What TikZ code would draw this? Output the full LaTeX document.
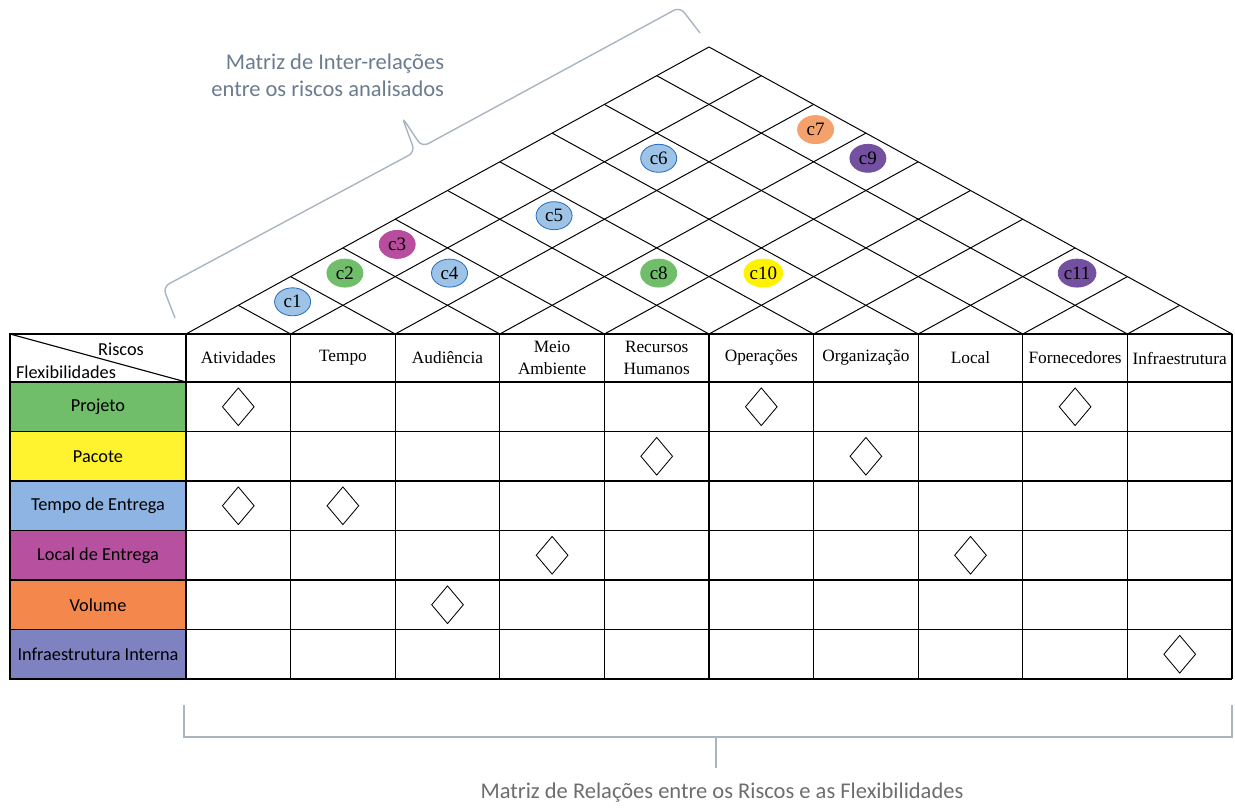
\documentclass[tikz,border=0pt]{standalone}
\usepackage{fontspec}
\setmainfont{Liberation Serif}
\newfontfamily\calibri{Carlito}
\usetikzlibrary{shapes.geometric}

\definecolor{projeto}{HTML}{70BE6A}
\definecolor{pacote}{HTML}{FFF22E}
\definecolor{tempo}{HTML}{8DB4E2}
\definecolor{local}{HTML}{B850A0}
\definecolor{volume}{HTML}{F4874B}
\definecolor{infra}{HTML}{7E82C0}
\definecolor{azul}{HTML}{9DC3E6}
\definecolor{azulb}{HTML}{2F6EBA}
\definecolor{verde}{HTML}{70BE6A}
\definecolor{magenta}{HTML}{B84D9E}
\definecolor{laranja}{HTML}{F4A16B}
\definecolor{roxo}{HTML}{7450A0}
\definecolor{amarelo}{HTML}{FFF200}
\definecolor{chave}{HTML}{A9B5C1}
\definecolor{rotuloc}{HTML}{6B7C8F}
\definecolor{rotulob}{HTML}{6D6D6D}

\tikzset{
  grade/.style={line width=0.8pt, black},
  telhado/.style={line width=0.7pt, black},
  cabec/.style={font=\fontsize{12.3}{16}\selectfont, align=center},
  flex/.style={font=\calibri\fontsize{13}{15}\selectfont},
  losango/.style={diamond, draw, line width=0.6pt, inner sep=0pt,
    minimum width=0.8cm, minimum height=0.95cm},
  risco/.style={ellipse, inner sep=0pt, line width=0.6pt,
    minimum width=0.9cm, minimum height=0.7cm, font=\fontsize{13.5}{15}\selectfont},
  chaveta/.style={draw=chave, line width=1pt},
  rotulo/.style={font=\calibri\fontsize{16}{19.2}\selectfont, text=rotuloc},
}

\begin{document}
\begin{tikzpicture}[x=0.025cm,y=-0.025cm]
\useasboundingbox (0,0) rectangle (1235,808);

% flexibilidades (linhas)
\foreach \nome/\cor [count=\r] in {Projeto/projeto, Pacote/pacote, Tempo de Entrega/tempo,
    Local de Entrega/local, Volume/volume, Infraestrutura Interna/infra} {
  \filldraw[grade, fill=\cor] (10,{382+(\r-1)*49.5}) rectangle (186,{382+\r*49.5});
  \node[flex] (flex\r) at (98,{382+(\r-0.5)*49.5}) {\nome};
}

% grelha da tabela
\foreach \k in {1,...,10}
  \draw[grade] ({186+\k*104.6},334) -- ({186+\k*104.6},679);
\foreach \r in {0,...,5}
  \draw[grade] (10,{382+\r*49.5}) -- (1232,{382+\r*49.5});
\draw[grade] (10,679) -- (10,334) -- (1232,334);
\draw[grade] (186,334) -- (186,679);
\draw[line width=1.3pt] (10,679) -- (1232,679);
\draw[grade] (10,334) -- (186,382);
\node[flex] (riscos) at (121,349) {Riscos};
\node[flex] (flexib) at (66,372) {Flexibilidades};

% riscos (colunas)
\foreach \nome [count=\k] in {Atividades, Tempo, Audiência, {Meio\\Ambiente},
    {Recursos\\Humanos}, Operações, Organização, Local, Fornecedores, Infraestrutura}
  \node[cabec] (col\k) at ({186+(\k-0.5)*104.6},358) {\nome};

% relacoes riscos x flexibilidades
\foreach \r/\k in {1/1, 1/6, 1/9, 2/5, 2/7, 3/1, 3/2, 4/4, 4/8, 5/3, 6/10}
  \node[losango] (l\r-\k) at ({186+(\k-0.5)*104.6},{382+(\r-0.5)*49.5}) {};

% telhado
\foreach \k in {0,...,9}
  \draw[telhado] ({186+\k*104.6},334) -- ({(186+\k*104.6+1232)/2},{334-(10-\k)*28.7});
\foreach \k in {1,...,10}
  \draw[telhado] ({186+\k*104.6},334) -- ({(372+\k*104.6)/2},{334-\k*28.7});

% inter-relacoes
\foreach \n/\i/\j/\cor/\borda in {1/1/2/azul/azulb, 2/1/3/verde/verde, 3/1/4/magenta/magenta,
    4/2/4/azul/azulb, 5/2/6/azul/azulb, 6/2/8/azul/azulb, 7/3/10/laranja/laranja,
    8/4/6/verde/verde, 9/4/10/roxo/roxo, 10/5/7/amarelo/amarelo, 11/8/10/roxo/roxo}
  \node[risco, fill=\cor, draw=\borda] (c\n)
    at ({186+((\i+\j-1)/2)*104.6+2},{334-(\j-\i)*28.7-3.5}) {c\n};

% chavetas
\draw[chaveta, rounded corners=5pt] (175,318) -- (163,287) -- (415,152) -- (402,117)
  -- (422,147) -- (680,7) -- (700,33);
\node[rotulo, align=right, anchor=east] (titulo1) at (449,75)
  {Matriz de Inter-relações\\entre os riscos analisados};

\draw[chaveta, line width=1.2pt] (184,705) -- (184,737) -- (1232,737) -- (1232,705);
\draw[chaveta, line width=1.2pt] (716,737) -- (716,768);
\node[rotulo, text=rotulob] (titulo2) at (722,793)
  {Matriz de Relações entre os Riscos e as Flexibilidades};
\end{tikzpicture}
\end{document}
